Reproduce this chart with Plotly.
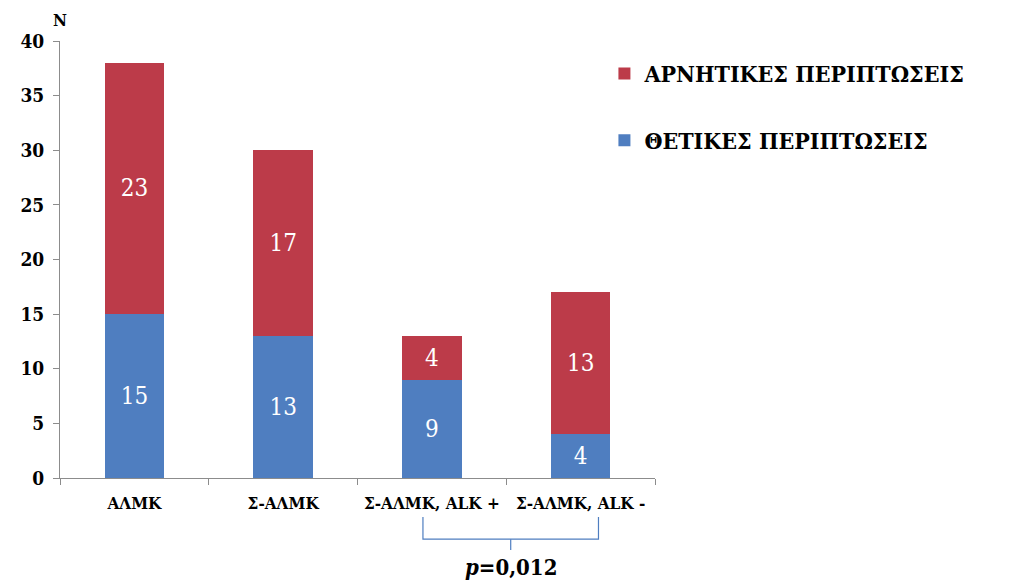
import plotly.graph_objects as go

categories = ["ΑΛΜΚ", "Σ-ΑΛΜΚ", "Σ-ΑΛΜΚ, ALK +", "Σ-ΑΛΜΚ, ALK -"]
positive = [15, 13, 9, 4]
negative = [23, 17, 4, 13]
y_ticks = [0, 5, 10, 15, 20, 25, 30, 35, 40]

BLUE = "#4F7EC0"
RED = "#BC3B49"
SERIF = "DejaVu Serif Condensed, DejaVu Serif"

fig = go.Figure()
fig.add_trace(go.Bar(x=categories, y=positive, name="ΘΕΤΙΚΕΣ ΠΕΡΙΠΤΩΣΕΙΣ",
                     marker=dict(color=BLUE, line=dict(width=0)),
                     text=positive, textposition="inside", insidetextanchor="middle",
                     textfont=dict(family=SERIF, size=24, color="white"),
                     legendgroup="a", legendrank=2))
fig.add_trace(go.Bar(x=categories, y=negative, name="ΑΡΝΗΤΙΚΕΣ ΠΕΡΙΠΤΩΣΕΙΣ",
                     marker=dict(color=RED, line=dict(width=0)),
                     text=negative, textposition="inside", insidetextanchor="middle",
                     textfont=dict(family=SERIF, size=24, color="white"),
                     legendgroup="b", legendrank=1))

fig.update_layout(
    width=1023, height=587,
    barmode="stack", bargap=0.6,
    font=dict(family=SERIF),
    plot_bgcolor="white", paper_bgcolor="white",
    margin=dict(l=52, r=376, t=33, b=117),
    showlegend=True,
    legend=dict(x=0.915, y=0.975, xanchor="left", yanchor="top",
                traceorder="grouped", tracegroupgap=34,
                font=dict(family=SERIF, size=23, color="black", weight="bold")),
    uniformtext=dict(mode="show", minsize=10),
)
fig.update_xaxes(showline=True, linecolor="#8c8c8c", linewidth=1,
                 ticks="outside", tickson="boundaries", ticklen=6, tickcolor="#8c8c8c",
                 tickangle=0, ticklabelstandoff=10,
                 tickfont=dict(family=SERIF, size=17, color="black", weight="bold"))
fig.update_yaxes(range=[0, 40], tickvals=y_ticks, showgrid=False, zeroline=False,
                 showline=True, linecolor="#8c8c8c", linewidth=1,
                 ticks="outside", ticklen=6, tickcolor="#8c8c8c", ticklabelstandoff=5,
                 tickfont=dict(family=SERIF, size=19, color="black", weight="bold"))

# "N" axis label above the y axis
fig.add_annotation(text="N", xref="paper", yref="paper", x=0, y=1.0, yshift=21,
                   xanchor="center", yanchor="middle", showarrow=False,
                   font=dict(family=SERIF, size=17, color="black", weight="bold"))

# bracket under the last two categories
fig.add_shape(type="path", xref="x", yref="paper",
              path="M 1.94,-0.089 L 1.94,-0.14 L 3.12,-0.14 L 3.12,-0.089",
              line=dict(color=BLUE, width=1.2))
fig.add_shape(type="line", xref="x", yref="paper", x0=2.53, x1=2.53, y0=-0.14, y1=-0.165,
              line=dict(color=BLUE, width=1.2))
fig.add_annotation(text="<i>p</i>=0,012", xref="x", yref="paper", x=2.53, y=-0.204,
                   yanchor="middle", showarrow=False,
                   font=dict(family=SERIF, size=22, color="black", weight="bold"))

fig.write_html("out.html")
